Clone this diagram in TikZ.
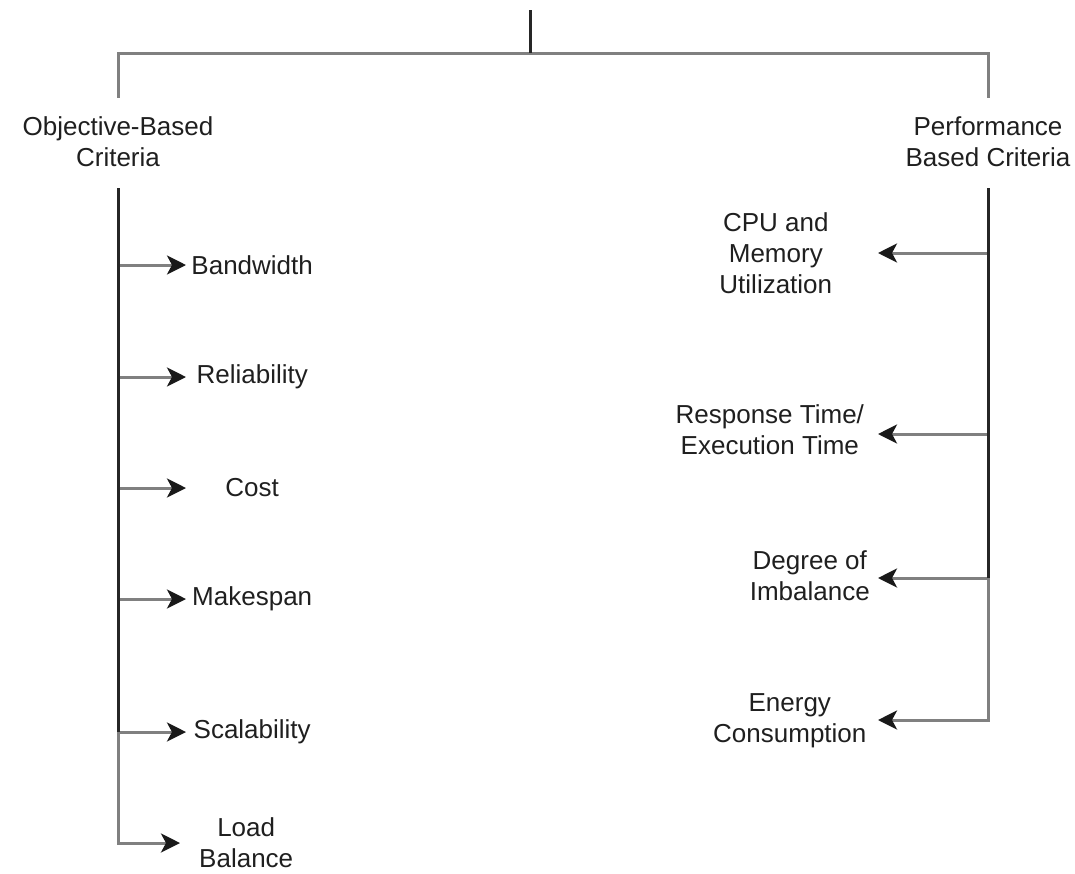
\documentclass[tikz,border=0pt]{standalone}
\usepackage{fontspec}
\setmainfont{Liberation Sans}
\usetikzlibrary{arrows.meta}
\begin{document}
\begin{tikzpicture}[x=1pt,y=-1pt,
  lbl/.style={align=center, inner sep=0pt, font=\fontsize{26}{31}\selectfont, text=black!88},
  leaf/.style={lbl, minimum width=132, minimum height=40},
  conn/.style={draw=black!50, line width=3pt},
  trunk/.style={draw=black!85, line width=3pt},
  arr/.style={conn, -{Stealth[length=19pt, width=19pt, inset=5pt, black!90]}}]
  \useasboundingbox (0,0) rectangle (1075,873);

  % root stub and the two criteria families
  \coordinate (root) at (530,10);
  \coordinate (fork) at (530,53);
  \node[lbl] (obj) at (118,142) {Objective-Based\\Criteria};
  \node[lbl] (perf) at (988,142) {Performance\\Based Criteria};
  \coordinate (objtop) at (118,98);
  \coordinate (perftop) at (988,98);
  \coordinate (objbot) at (118,188);
  \coordinate (perfbot) at (988,188);

  \draw[conn] (fork) -| (objtop);
  \draw[conn] (fork) -| (perftop);
  \draw[trunk] (root) -- (fork);

  % objective-based criteria
  \node[leaf, anchor=west] (bw)  at (186,265) {Bandwidth};
  \node[leaf, anchor=west] (rel) at (186,377) {Reliability};
  \node[leaf, anchor=west] (cst) at (186,488) {Cost};
  \node[leaf, anchor=west] (mk)  at (186,599) {Makespan};
  \node[leaf, anchor=west] (sc)  at (186,732) {Scalability};
  \node[leaf, anchor=west] (lb)  at (180,843) {Load\\Balance};

  \foreach \n in {bw,rel,cst,mk,sc,lb}
    \draw[arr] (objbot) |- (\n.west);
  \draw[trunk] (objbot) -- (objbot |- sc.west);

  % performance-based criteria
  \node[lbl, anchor=east, minimum width=204] (cpu) at (878,253) {CPU and\\Memory\\Utilization};
  \node[lbl, anchor=east, minimum width=216] (rt)  at (878,430) {Response Time/\\Execution Time};
  \node[lbl, anchor=east, minimum width=136] (deg) at (878,576) {Degree of\\Imbalance};
  \node[lbl, anchor=east, minimum width=176] (en)  at (878,721) {Energy\\Consumption};

  \coordinate (tcpu) at (878,253);
  \coordinate (trt)  at (878,434);
  \coordinate (tdeg) at (878,578);
  \coordinate (ten)  at (878,720);
  \foreach \t in {tcpu,trt,tdeg,ten}
    \draw[arr] (perfbot) |- (\t);
  \draw[trunk] (perfbot) -- (perfbot |- tdeg);
\end{tikzpicture}
\end{document}
